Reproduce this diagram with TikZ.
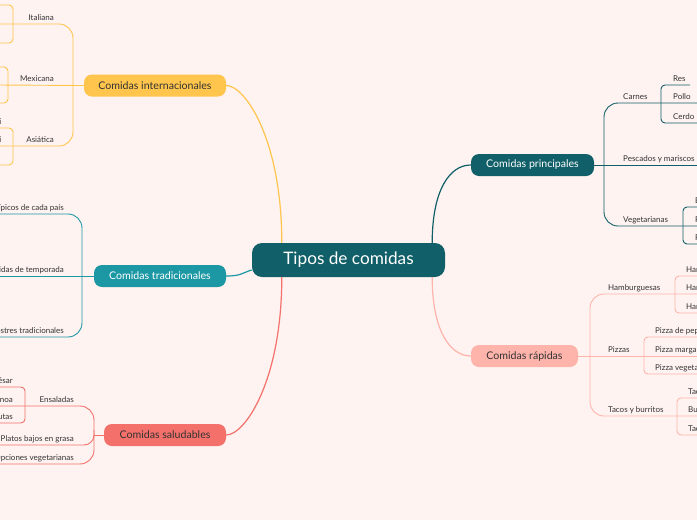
\documentclass[tikz,border=0pt]{standalone}
\usepackage{fontspec}
\setmainfont{Lato}
\definecolor{bgpink}{HTML}{FEF3F1}
\definecolor{deepteal}{HTML}{115F68}
\definecolor{lagoon}{HTML}{1B98A4}
\definecolor{sun}{HTML}{FFC54C}
\definecolor{coral}{HTML}{F4706A}
\definecolor{blush}{HTML}{FFB4AB}
\definecolor{ink}{HTML}{333333}
\begin{document}
\begin{tikzpicture}[
    x=1pt, y=-1pt,
    root/.style={fill=deepteal, text=white, rounded corners=10pt, minimum width=193pt, minimum height=34pt, inner sep=0pt, font=\fontsize{17.2}{20}\selectfont},
    topic/.style={rounded corners=8pt, minimum height=22pt, inner sep=0pt, font=\fontsize{10.6}{12}\selectfont},
    lbl/.style={text=ink, inner sep=0pt, font=\fontsize{8}{9.5}\selectfont},
    link/.style={line width=1.2pt},
    twig/.style={line width=0.9pt, rounded corners=14pt},
    leafbr/.style={line width=0.9pt, rounded corners=4pt}
]

% canvas
\useasboundingbox (0,0) rectangle (697,520);
\fill[bgpink] (0,0) rectangle (697,520);
\clip (0,0) rectangle (697,520);

% centre and topics
\node[root] (root) at (348.5,260) {Tipos de comidas};
\node[topic, fill=sun, text=ink, minimum width=142pt] (intl) at (155,85.5) {Comidas internacionales};
\node[topic, fill=lagoon, text=white, minimum width=132pt] (trad) at (160,276) {Comidas tradicionales};
\node[topic, fill=coral, text=ink, minimum width=122pt] (salud) at (165,435) {Comidas saludables};
\node[topic, fill=deepteal, text=white, minimum width=123pt] (princ) at (532.5,165) {Comidas principales};
\node[topic, fill=blush, text=ink, minimum width=107pt] (rapid) at (524.5,356) {Comidas rápidas};

% links from the centre
\draw[link, sun] ([xshift=30pt]root.north west) .. controls +(0,-103) and +(19,0) .. (intl.east);
\draw[link, lagoon] (trad.east) .. controls +(15,0) and +(-10,3) .. ([yshift=-10pt]root.west);
\draw[link, coral] ([xshift=30pt]root.south west) .. controls +(0,103) and +(19,0) .. (salud.east);
\draw[link, deepteal] ([xshift=-13pt]root.north east) .. controls +(0,-53) and +(-21,0) .. (princ.west);
\draw[link, blush] ([xshift=-13pt]root.south east) .. controls +(0,53) and +(-21,0) .. (rapid.west);

% internacionales
\draw[twig, sun] (0,24) -- (73,24) -- (73,146) -- (0,146);
\draw[twig, sun] (intl.west) -- (-3,85);
\draw[leafbr, sun] (-3,5) -- (13,5) -- (13,43) -- (-3,43);
\draw[leafbr, sun] (-3,67) -- (8,67) -- (8,103) -- (-3,103);
\draw[leafbr, sun] (-3,128) -- (13,128) -- (13,165) -- (-3,165);
\node[lbl, anchor=base east] (italiana) at (54,20.5) {Italiana};
\node[lbl, anchor=base east] (mexicana) at (54,81.5) {Mexicana};
\node[lbl, anchor=base east] (asiatica) at (54,142.5) {Asiática};
\node[lbl, anchor=base east] (sushi) at (1.5,124.5) {Sushi};
\node[lbl, anchor=base east] (padthai) at (1.5,142.5) {Pad thai};

% tradicionales
\draw[twig, lagoon] (-3,214) -- (82,214) -- (82,337) -- (-3,337);
\draw[twig, lagoon] (trad.west) -- (-3,276);
\node[lbl, anchor=base east] (tipicos) at (64,210.5) {Platos típicos de cada país};
\node[lbl, anchor=base east] (temporada) at (64,272.5) {Comidas de temporada};
\node[lbl, anchor=base east] (postres) at (64,333.5) {Postres tradicionales};

% saludables
\draw[twig, coral] (-3,406) -- (94,406) -- (94,464) -- (-3,464);
\draw[twig, coral] (salud.west) -- (94,435);
\draw[twig, coral, rounded corners=10pt] (-3,445) -- (94,445) -- (94,430);
\draw[leafbr, coral] (-3,387) -- (25,387) -- (25,423) -- (-3,423);
\node[lbl, anchor=base east] (ensaladas) at (74,402.5) {Ensaladas};
\node[lbl, anchor=base east] (bajos) at (74,441.5) {Platos bajos en grasa};
\node[lbl, anchor=base east] (opciones) at (74,460.5) {Opciones vegetarianas};
\node[lbl, anchor=base east] (cesar) at (13,383.5) {Ensalada César};
\node[lbl, anchor=base east] (quinoa) at (13,402.5) {Ensalada de quinoa};
\node[lbl, anchor=base east] (frutas) at (13,419.5) {Ensalada de frutas};

% principales
\draw[twig, deepteal] (700,103) -- (604,103) -- (604,226) -- (700,226);
\draw[twig, deepteal] (princ.east) -- (700,165);
\draw[leafbr, deepteal] (690,85) -- (661,85) -- (661,123) -- (700,123);
\draw[leafbr, deepteal] (700,207) -- (683,207) -- (683,244) -- (700,244);
\node[lbl, anchor=base west] (carnes) at (623,99.5) {Carnes};
\node[lbl, anchor=base west] (pescados) at (623,161.5) {Pescados y mariscos};
\node[lbl, anchor=base west] (vegetarianas) at (623,222.5) {Vegetarianas};
\node[lbl, anchor=base west] (res) at (673,81.5) {Res};
\node[lbl, anchor=base west] (pollo) at (673,99.5) {Pollo};
\node[lbl, anchor=base west] (cerdo) at (673,119.5) {Cerdo};
\node[lbl, anchor=base west] (berenjena) at (695,203.5) {Berenjena rellena};
\node[lbl, anchor=base west] (falafel) at (695,222.5) {Falafel};
\node[lbl, anchor=base west] (fajitas) at (695,240.5) {Fajitas de verduras};

% rapidas
\draw[twig, blush] (700,294) -- (590,294) -- (590,416) -- (700,416);
\draw[twig, blush] (rapid.east) -- (700,356);
\draw[leafbr, blush] (700,276) -- (675,276) -- (675,313) -- (700,313);
\draw[leafbr, blush] (700,337) -- (644,337) -- (644,374) -- (700,374);
\draw[leafbr, blush] (700,398) -- (677,398) -- (677,435) -- (700,435);
\node[lbl, anchor=base west] (hamburguesas) at (608,290.5) {Hamburguesas};
\node[lbl, anchor=base west] (pizzas) at (608,352.5) {Pizzas};
\node[lbl, anchor=base west] (tacos) at (608,412.5) {Tacos y burritos};
\node[lbl, anchor=base west] (hclasica) at (686,272.5) {Hamburguesa clásica};
\node[lbl, anchor=base west] (hqueso) at (686,290.5) {Hamburguesa con queso};
\node[lbl, anchor=base west] (hvegetal) at (686,309.5) {Hamburguesa vegetal};
\node[lbl, anchor=base west] (pepperoni) at (655,333.5) {Pizza de pepperoni};
\node[lbl, anchor=base west] (margarita) at (655,352.5) {Pizza margarita};
\node[lbl, anchor=base west] (pvegetal) at (655,370.5) {Pizza vegetariana};
\node[lbl, anchor=base west] (pastor) at (688,394.5) {Tacos al pastor};
\node[lbl, anchor=base west] (burritos) at (688,412.5) {Burritos de carne};
\node[lbl, anchor=base west] (pescado) at (688,431.5) {Tacos de pescado};

\end{tikzpicture}
\end{document}
